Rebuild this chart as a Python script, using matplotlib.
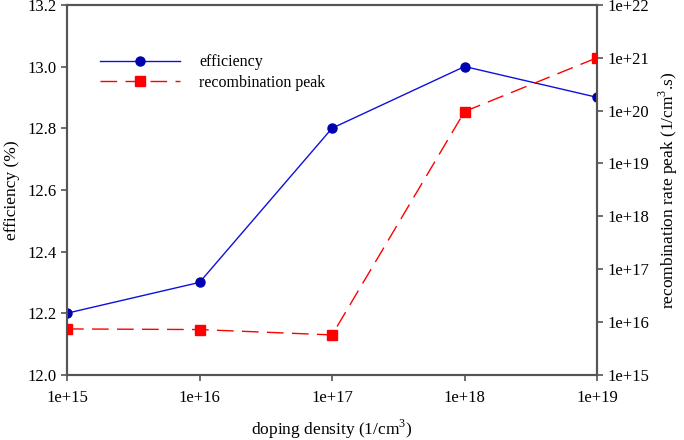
import matplotlib
matplotlib.use("Agg")
import matplotlib.pyplot as plt
from matplotlib.ticker import FixedLocator, FixedFormatter, NullLocator

plt.rcParams['font.family'] = ['Liberation Serif', 'DejaVu Serif']
plt.rcParams['mathtext.fontset'] = 'custom'
plt.rcParams['mathtext.rm'] = 'Liberation Serif'

# donnees
doping = [1e15, 1e16, 1e17, 1e18, 1e19]
efficiency = [12.2, 12.3, 12.8, 13.0, 12.9]
recomb_peak = [7.4e15, 7.2e15, 5.7e15, 9.6e19, 1e21]

x_ticks = [1e15, 1e16, 1e17, 1e18, 1e19]
x_labels = ['1e+15', '1e+16', '1e+17', '1e+18', '1e+19']
y_ticks = [12.0, 12.2, 12.4, 12.6, 12.8, 13.0, 13.2]
y2_ticks = [1e15, 1e16, 1e17, 1e18, 1e19, 1e20, 1e21, 1e22]
y2_labels = ['1e+15', '1e+16', '1e+17', '1e+18', '1e+19', '1e+20', '1e+21', '1e+22']

spine_col = '#555555'

fig = plt.figure(figsize=(6.84, 4.40), dpi=100)
ax = fig.add_axes([0.098, 0.148, 0.775, 0.841])
ax2 = ax.twinx()

l1, = ax.plot(doping, efficiency, color='#1010dd', lw=1.0, marker='o',
              ms=6.5, mfc='#0000b0', mec='#0000b0', label='efficiency', zorder=3)
l2, = ax2.plot(doping, recomb_peak, color='#ff0000', lw=1.0, ls=(0, (12, 6)),
               marker='s', ms=6.5, mfc='#ff0000', mec='#ff0000',
               label='recombination peak', zorder=3)

ax.set_xscale('log')
ax.set_xlim(1e15, 1e19)
ax.set_ylim(12.0, 13.2)
ax2.set_yscale('log')
ax2.set_ylim(1e15, 1e22)

ax.xaxis.set_major_locator(FixedLocator(x_ticks))
ax.xaxis.set_major_formatter(FixedFormatter(x_labels))
ax.xaxis.set_minor_locator(NullLocator())
ax.set_yticks(y_ticks)
ax.set_yticklabels(['%.1f' % v for v in y_ticks])
ax2.yaxis.set_major_locator(FixedLocator(y2_ticks))
ax2.yaxis.set_major_formatter(FixedFormatter(y2_labels))
ax2.yaxis.set_minor_locator(NullLocator())

for a in (ax, ax2):
    for s in a.spines.values():
        s.set_color(spine_col)
        s.set_linewidth(1.5)
    a.tick_params(direction='out', length=4, width=1.2, color=spine_col,
                  labelsize=12)
ax.tick_params(axis='x', pad=7)

ax.set_xlabel('doping density (1/cm$^3$)', fontsize=12.5, labelpad=8)
ax.set_ylabel('efficiency (%)', fontsize=12.5, labelpad=5)
ax2.set_ylabel('recombination rate peak (1/cm$^3$.s)', fontsize=12.5, labelpad=5)

ax.legend([l1, l2], ['efficiency', 'recombination peak'], loc='upper left',
          bbox_to_anchor=(0.035, 0.905), frameon=False, numpoints=1,
          handlelength=5.0, handletextpad=1.2, fontsize=11.5, labelspacing=0.28)

fig.savefig('out.png', dpi=100)
